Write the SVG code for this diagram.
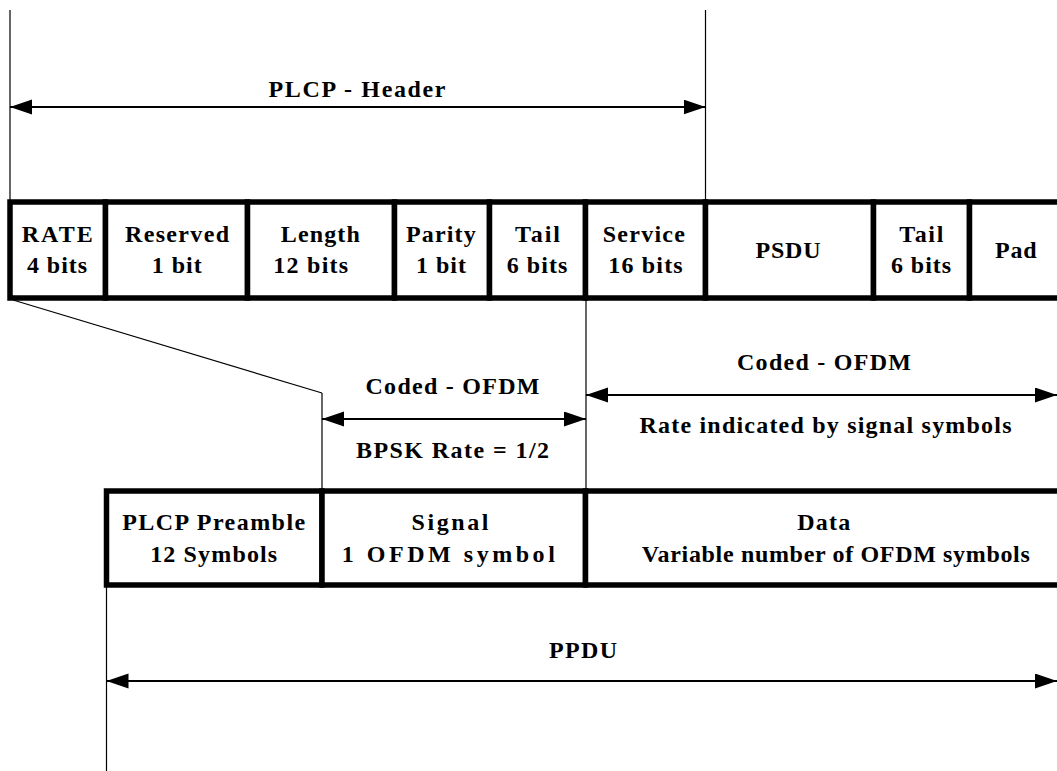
<svg xmlns="http://www.w3.org/2000/svg" width="1057" height="771" viewBox="0 0 1057 771">
<style>
.cell{fill:#fff;stroke:#000;stroke-width:5.5}
.thin{stroke:#000;stroke-width:1.2;fill:none}
.arr{stroke:#000;stroke-width:2;fill:none;marker-start:url(#ah);marker-end:url(#ah)}
</style>
<defs>
<marker id="ah" markerUnits="userSpaceOnUse" markerWidth="23" markerHeight="16" refX="22" refY="7.5" orient="auto-start-reverse" viewBox="0 0 23 16">
<path d="M0,0 L22,7.5 L0,15 z" fill="#000"/>
</marker>
</defs>
<rect width="1057" height="771" fill="#fff"/>
<g id="connectors">
<line class="thin" x1="10" y1="10" x2="10" y2="202"/>
<line class="thin" x1="705.5" y1="10" x2="705.5" y2="202"/>
<line class="thin" x1="13" y1="300" x2="322" y2="393"/>
<line class="thin" x1="322" y1="393" x2="322" y2="491"/>
<line class="thin" x1="586" y1="298" x2="586" y2="491"/>
<line class="thin" x1="106.5" y1="585" x2="106.5" y2="771"/>
<line class="arr" x1="10" y1="107" x2="705.5" y2="107"/>
<line class="arr" x1="322" y1="419" x2="586" y2="419"/>
<line class="arr" x1="586" y1="395" x2="1057" y2="395"/>
<line class="arr" x1="106.5" y1="681" x2="1057" y2="681"/>
</g>
<g font-family="Liberation Serif, Times New Roman, serif" font-weight="bold" font-size="24" text-anchor="middle" fill="#000">
<g id="labels">
<text x="357" y="97" textLength="177">PLCP - Header</text>
<text x="452.5" y="394" textLength="174">Coded - OFDM</text>
<text x="452.5" y="458" textLength="193">BPSK Rate = 1/2</text>
<text x="824" y="370" textLength="174">Coded - OFDM</text>
<text x="825.5" y="433" textLength="372">Rate indicated by signal symbols</text>
<text x="583" y="658" textLength="68">PPDU</text>
</g>
<g id="rate">
<rect class="cell" x="10" y="202" width="95.5" height="96"/>
<text x="57.2" y="242" textLength="71">RATE</text>
<text x="57" y="273" textLength="60">4 bits</text>
</g>
<g id="reserved">
<rect class="cell" x="105.5" y="202" width="142" height="96"/>
<text x="177" y="242" textLength="104">Reserved</text>
<text x="176.7" y="273" textLength="50">1 bit</text>
</g>
<g id="length">
<rect class="cell" x="247.5" y="202" width="147" height="96"/>
<text x="320.3" y="242" textLength="79">Length</text>
<text x="310.7" y="273" textLength="75">12 bits</text>
</g>
<g id="parity">
<rect class="cell" x="394.5" y="202" width="95" height="96"/>
<text x="440.8" y="242" textLength="69.7">Parity</text>
<text x="441" y="273" textLength="50">1 bit</text>
</g>
<g id="tail1">
<rect class="cell" x="489.5" y="202" width="96" height="96"/>
<text x="537.5" y="242" textLength="45">Tail</text>
<text x="537" y="273" textLength="60.6">6 bits</text>
</g>
<g id="service">
<rect class="cell" x="585.5" y="202" width="120" height="96"/>
<text x="643.8" y="242" textLength="82.3">Service</text>
<text x="645.5" y="273" textLength="74.4">16 bits</text>
</g>
<g id="psdu">
<rect class="cell" x="705.5" y="202" width="168" height="96"/>
<text x="788" y="258" textLength="65">PSDU</text>
</g>
<g id="tail2">
<rect class="cell" x="873.5" y="202" width="96" height="96"/>
<text x="921.3" y="242" textLength="44">Tail</text>
<text x="921" y="273" textLength="60">6 bits</text>
</g>
<g id="pad">
<rect class="cell" x="969.5" y="202" width="110" height="96"/>
<text x="1015.8" y="258" textLength="41.7">Pad</text>
</g>
<g id="preamble">
<rect class="cell" x="106.5" y="491" width="215.5" height="94"/>
<text x="213.7" y="530" textLength="183">PLCP Preamble</text>
<text x="213.7" y="562" textLength="127">12 Symbols</text>
</g>
<g id="signal">
<rect class="cell" x="322" y="491" width="263.5" height="94"/>
<text x="450" y="530" textLength="77">Signal</text>
<text x="448.3" y="562" textLength="213">1 OFDM symbol</text>
</g>
<g id="data">
<rect class="cell" x="585.5" y="491" width="500" height="94"/>
<text x="823.7" y="530" textLength="53">Data</text>
<text x="835.8" y="562" textLength="388">Variable number of OFDM symbols</text>
</g>
</g>
</svg>
